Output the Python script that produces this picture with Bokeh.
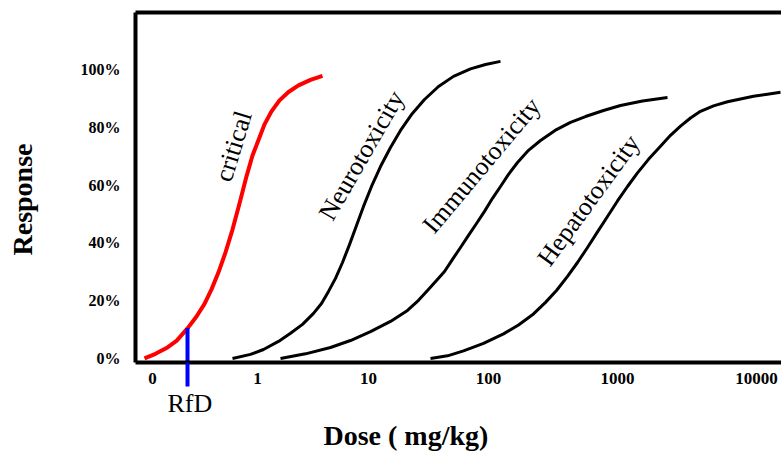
from bokeh.plotting import figure
from bokeh.models import Range1d, FixedTicker, LinearAxis, Title
from bokeh.core.properties import value
from bokeh.embed import file_html
from bokeh.resources import INLINE

# ---- data (x = position along the dose axis, y = response in %) ----
x_tick_pos = [0.17, 1.22, 2.33, 3.53, 4.82, 6.21]
x_tick_labels = ["0", "1", "10", "100", "1000", "10000"]
y_tick_vals = [0, 20, 40, 60, 80, 100]
y_tick_labels = ["0%", "20%", "40%", "60%", "80%", "100%"]

critical_x = [0.09, 0.20, 0.31, 0.41, 0.52, 0.61, 0.69, 0.76, 0.83, 0.90, 0.97, 1.04,
              1.11, 1.17, 1.23, 1.29, 1.36, 1.44, 1.53, 1.63, 1.75, 1.87]
critical_y = [0.0, 1.6, 3.6, 6.1, 10.4, 14.5, 18.9, 23.9, 29.8, 36.7, 44.6, 53.6,
              63.0, 70.2, 75.6, 81.0, 85.5, 89.3, 92.2, 94.5, 96.4, 97.8]

neuro_x = [0.97, 1.15, 1.28, 1.43, 1.55, 1.67, 1.78, 1.86, 1.93, 2.00, 2.07, 2.14, 2.21,
           2.28, 2.36, 2.45, 2.55, 2.65, 2.76, 2.89, 3.03, 3.18, 3.35, 3.50, 3.65]
neuro_y = [0.0, 1.4, 3.1, 5.9, 8.7, 11.8, 15.6, 19.0, 23.2, 27.7, 33.2, 39.4, 46.0,
           52.6, 59.5, 66.4, 73.0, 78.9, 84.4, 89.6, 94.1, 97.6, 100.2, 101.7, 102.8]

immuno_x = [1.45, 1.70, 1.95, 2.15, 2.35, 2.55, 2.72, 2.83, 2.92, 3.01, 3.09, 3.17, 3.25, 3.33, 3.41,
            3.49, 3.57, 3.65, 3.73, 3.82, 3.93, 4.05, 4.21, 4.35, 4.50, 4.68, 4.85, 5.07, 5.32]
immuno_y = [0.0, 1.6, 3.8, 6.2, 9.3, 12.8, 16.6, 20.1, 23.5, 27.0, 30.1, 34.3, 38.4, 42.6, 46.7,
            50.9, 55.4, 59.5, 63.7, 67.8, 72.0, 75.4, 79.2, 81.7, 83.7, 85.8, 87.5, 89.1, 90.3]

hepato_x = [2.95, 3.12, 3.28, 3.48, 3.68, 3.83, 3.98, 4.10, 4.21, 4.32, 4.42, 4.52, 4.62, 4.72, 4.82,
            4.92, 5.02, 5.13, 5.25, 5.35, 5.45, 5.55, 5.65, 5.78, 5.92, 6.05, 6.18, 6.32, 6.45]
hepato_y = [0.0, 0.9, 2.6, 5.2, 8.5, 11.6, 15.4, 19.4, 23.5, 28.4, 33.2, 38.4, 43.8, 49.1, 54.5,
            59.5, 64.2, 68.9, 73.4, 77.2, 80.4, 83.2, 85.5, 87.4, 88.8, 89.8, 90.7, 91.4, 92.1]

curve_names = ["critical", "Neurotoxicity", "Immunotoxicity", "Hepatotoxicity"]
name_x = [0.98, 2.26, 3.46, 4.53]
name_y = [73.4, 70.2, 66.8, 54.7]
name_angle = [73, 60, 50, 54]

rfd_x = 0.52
rfd_top = 10.5

Y_START, Y_END = -1.4, 119.7
SERIF = "Liberation Serif"

p = figure(width=781, height=455,
           x_range=Range1d(0, 6.46), y_range=Range1d(Y_START, Y_END),
           x_axis_type=None, y_axis_type=None,
           output_backend="svg", toolbar_location=None,
           min_border_left=135, min_border_right=0,
           min_border_top=12, min_border_bottom=93)
p.outline_line_color = None
p.background_fill_color = "white"
p.border_fill_color = "white"


def bare(axis):
    axis.major_tick_line_color = None
    axis.minor_tick_line_color = None
    axis.major_tick_out = 0
    axis.major_tick_in = 0


# left axis
yaxis = LinearAxis(ticker=FixedTicker(ticks=y_tick_vals),
                   major_label_overrides={v: s for v, s in zip(y_tick_vals, y_tick_labels)})
bare(yaxis)
yaxis.axis_line_width = 4
yaxis.axis_line_color = "black"
yaxis.major_label_standoff = 15
yaxis.major_label_text_font = SERIF
yaxis.major_label_text_font_style = "bold"
yaxis.major_label_text_font_size = "16px"
yaxis.major_label_text_color = "black"
p.add_layout(yaxis, "left")

# invisible spacer between the tick labels and the y title
gap = LinearAxis(ticker=FixedTicker(ticks=[y_tick_vals[0]]))
bare(gap)
gap.axis_line_color = None
gap.major_tick_out = 40
gap.major_label_standoff = 0
gap.major_label_text_font_size = "0px"
gap.major_label_text_color = None
p.add_layout(gap, "left")

# y-axis title, placed a little below the frame's middle as in the original
p.add_layout(Title(text="Response", align="left", offset=107, standoff=0,
                   text_font=SERIF, text_font_style="bold", text_font_size="28px",
                   text_color="black"), "left")

# bottom rule carrying the RfD mark below the axis line
rfd_axis = LinearAxis(ticker=FixedTicker(ticks=[rfd_x]))
rfd_axis.axis_line_width = 4
rfd_axis.axis_line_color = "black"
rfd_axis.minor_tick_line_color = None
rfd_axis.major_tick_out = 0
rfd_axis.major_tick_in = -24
rfd_axis.major_tick_line_color = "#0000ff"
rfd_axis.major_tick_line_width = 4
rfd_axis.major_label_standoff = 0
rfd_axis.major_label_text_font_size = "0px"
rfd_axis.major_label_text_color = None
p.add_layout(rfd_axis, "below")

# dose tick labels
xaxis = LinearAxis(ticker=FixedTicker(ticks=x_tick_pos),
                   major_label_overrides={v: s for v, s in zip(x_tick_pos, x_tick_labels)})
bare(xaxis)
xaxis.axis_line_color = None
xaxis.major_label_standoff = 10
xaxis.major_label_text_font = SERIF
xaxis.major_label_text_font_style = "bold"
xaxis.major_label_text_font_size = "17px"
xaxis.major_label_text_color = "black"
p.add_layout(xaxis, "below")

p.add_layout(Title(text="RfD", align="left", offset=32, standoff=0,
                   text_font=SERIF, text_font_style="normal", text_font_size="26px",
                   text_color="black"), "below")
p.add_layout(Title(text="Dose ( mg/kg)", align="left", offset=188, standoff=0,
                   text_font=SERIF, text_font_style="bold", text_font_size="28px",
                   text_color="black"), "below")

# top border
top = LinearAxis(ticker=FixedTicker(ticks=[]))
bare(top)
top.axis_line_width = 4
top.axis_line_color = "black"
top.major_label_text_font_size = "0px"
top.major_label_text_color = None
p.add_layout(top, "above")

# curves
p.line(critical_x, critical_y, line_color="#ff0000", line_width=4, line_join="round")
p.line(neuro_x, neuro_y, line_color="black", line_width=3, line_join="round")
p.line(immuno_x, immuno_y, line_color="black", line_width=3, line_join="round")
p.line(hepato_x, hepato_y, line_color="black", line_width=3, line_join="round")

p.text(x=name_x, y=name_y, text=curve_names, angle=name_angle, angle_units="deg",
       text_font=value(SERIF), text_font_size="26px", text_color="black",
       text_align="center", text_baseline="middle")

# RfD line inside the frame (continued below the axis by the blue tick)
p.segment(x0=[rfd_x], y0=[rfd_top], x1=[rfd_x], y1=[Y_START],
          line_color="#0000ff", line_width=4)

open("out.html", "w").write(file_html(p, INLINE))
